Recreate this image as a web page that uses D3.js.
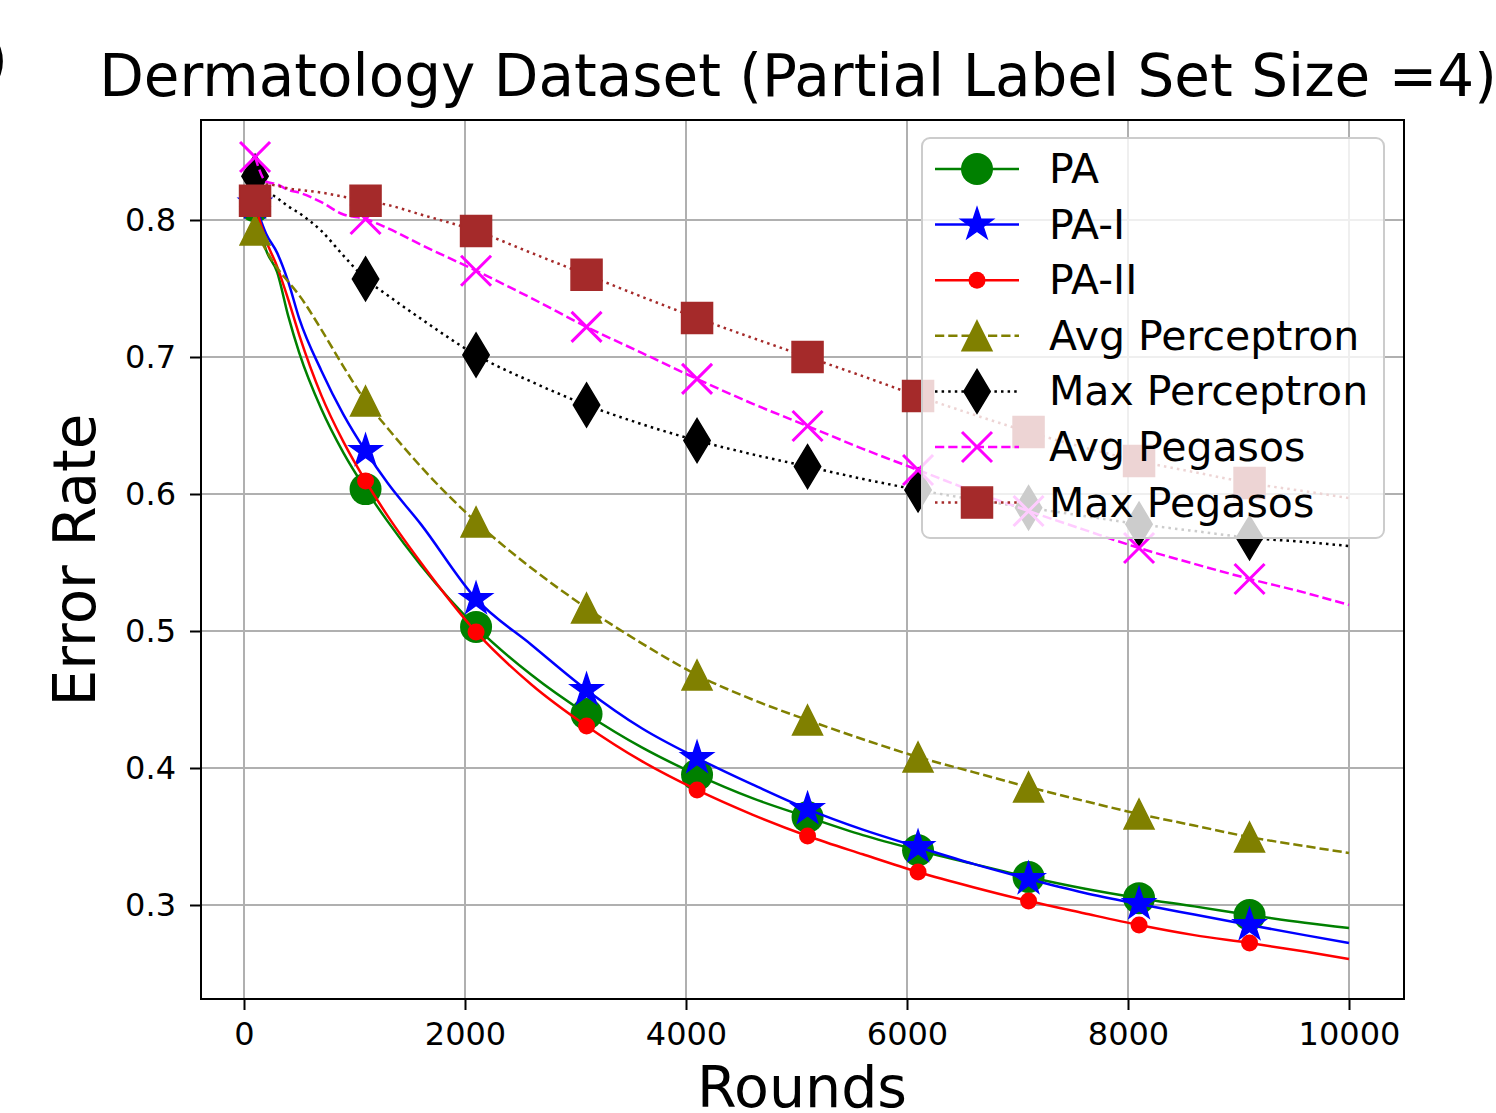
<!DOCTYPE html>
<html><head><meta charset="utf-8">
<script src="https://cdn.jsdelivr.net/npm/d3@7"></script>
<style>body{margin:0;background:#fff}svg{display:block}text{font-family:"DejaVu Sans",sans-serif;fill:#000}</style>
</head><body>
<svg id="chart" width="1496" height="1113"></svg>
<script>
// ---------- data ----------
const rounds = [100,200,300,400,500,700,900,1100,1300,1600,2100,2600,3100,3600,4100,4600,5100,5600,6100,6600,7100,7600,8100,8600,9100,9600,10000];
const seriesNames = ["PA","PA-I","PA-II","Avg Perceptron","Max Perceptron","Avg Pegasos","Max Pegasos"];
const paValues      = [0.810,0.778,0.762,0.730,0.703,0.662,0.630,0.6036,0.580,0.548,0.503,0.468,0.4394,0.415,0.395,0.378,0.3642,0.351,0.340,0.330,0.3204,0.312,0.305,0.299,0.2927,0.287,0.2832];
const paIValues     = [0.812,0.790,0.776,0.755,0.728,0.690,0.658,0.6314,0.608,0.578,0.5234,0.490,0.457,0.429,0.4073,0.388,0.370,0.355,0.3423,0.330,0.319,0.309,0.3007,0.293,0.2854,0.278,0.2723];
const paIIValues    = [0.811,0.785,0.766,0.742,0.716,0.672,0.638,0.6095,0.584,0.550,0.4993,0.461,0.4307,0.405,0.384,0.366,0.3504,0.337,0.3241,0.313,0.3029,0.294,0.2854,0.278,0.2723,0.266,0.2606];
const avgPercValues = [0.7927,0.778,0.765,0.755,0.745,0.720,0.693,0.6679,0.648,0.620,0.5796,0.546,0.5168,0.491,0.4679,0.450,0.435,0.421,0.408,0.397,0.3861,0.376,0.3664,0.358,0.3496,0.343,0.338];
const maxPercValues = [0.832,0.822,0.816,0.810,0.805,0.792,0.774,0.757,0.745,0.728,0.7015,0.682,0.665,0.651,0.639,0.629,0.620,0.611,0.603,0.596,0.590,0.584,0.578,0.573,0.568,0.565,0.562];
const avgPegValues  = [0.846,0.828,0.826,0.822,0.820,0.813,0.804,0.8007,0.794,0.782,0.763,0.743,0.722,0.703,0.684,0.666,0.6496,0.633,0.6175,0.602,0.5876,0.574,0.5606,0.549,0.538,0.528,0.519];
const maxPegValues  = [0.814,0.826,0.825,0.823,0.822,0.820,0.817,0.814,0.811,0.804,0.792,0.776,0.760,0.744,0.7285,0.714,0.700,0.686,0.6715,0.658,0.6453,0.634,0.624,0.616,0.608,0.602,0.597];
const xTicks = [0,2000,4000,6000,8000,10000];
const yTicks = [0.3,0.4,0.5,0.6,0.7,0.8];
const titleText = "Dermatology Dataset (Partial Label Set Size =4)";
const panelTag = ")";
const xLabel = "Rounds";
const yLabel = "Error Rate";

// ---------- styles ----------
const styles = [
  {color:"#008000", dash:null, marker:"circle", r:16},
  {color:"#0000ff", dash:null, marker:"star", r:17},
  {color:"#ff0000", dash:null, marker:"circle", r:8.5},
  {color:"#808000", dash:"9.25,4", marker:"tri", r:15},
  {color:"#000000", dash:"2.5,4.1", marker:"diamond", r:22},
  {color:"#ff00ff", dash:"9.25,4", marker:"x", r:15},
  {color:"#a52a2a", dash:"2.5,4.1", marker:"square", r:15.5}
];
const allValues = [paValues,paIValues,paIIValues,avgPercValues,maxPercValues,avgPegValues,maxPegValues];

const svg = d3.select("#chart");
const frame = {l:201, r:1404, t:120, b:999};
const x = d3.scaleLinear().domain([0,10000]).range([244,1349]);
const y = d3.scaleLinear().domain([0.3,0.8]).range([905,220]);

// grid
const grid = svg.append("g");
xTicks.forEach(t => grid.append("line").attr("x1",x(t)).attr("x2",x(t)).attr("y1",frame.t).attr("y2",frame.b)
  .attr("stroke","#b0b0b0").attr("stroke-width",2));
yTicks.forEach(t => grid.append("line").attr("y1",y(t)).attr("y2",y(t)).attr("x1",frame.l).attr("x2",frame.r)
  .attr("stroke","#b0b0b0").attr("stroke-width",2));

// axes
const xAxis = svg.append("g").attr("transform",`translate(0,${frame.b})`)
  .call(d3.axisBottom(x).tickValues(xTicks).tickFormat(d3.format("d")).tickSize(11).tickPadding(12));
const yAxis = svg.append("g").attr("transform",`translate(${frame.l},0)`)
  .call(d3.axisLeft(y).tickValues(yTicks).tickFormat(d3.format(".1f")).tickSize(11).tickPadding(14));
[xAxis,yAxis].forEach(a => {
  a.select(".domain").remove();
  a.selectAll(".tick line").attr("stroke","#000").attr("stroke-width",2);
  a.selectAll(".tick text").attr("font-size",32).attr("font-family","DejaVu Sans").attr("fill","#000");
});

function markerPath(type, r){
  if(type==="star"){
    const pts=[];
    for(let i=0;i<10;i++){const a=-Math.PI/2+i*Math.PI/5; const rr=i%2?r*0.382:r; pts.push([rr*Math.cos(a), rr*Math.sin(a)]);}
    return "M"+pts.map(p=>p.join(",")).join("L")+"Z";
  }
  if(type==="tri") return `M0,${-r}L${r},${r}L${-r},${r}Z`;
  if(type==="diamond") return `M0,${-r}L${0.6*r},0L0,${r}L${-0.6*r},0Z`;
  if(type==="square") return `M${-r},${-r}L${r},${-r}L${r},${r}L${-r},${r}Z`;
  if(type==="x") return `M${-r},${-r}L${r},${r}M${-r},${r}L${r},${-r}`;
  return null;
}
function drawMarker(g, st, cx, cy){
  if(st.marker==="circle"){
    g.append("circle").attr("cx",cx).attr("cy",cy).attr("r",st.r).attr("fill",st.color);
  } else if(st.marker==="x"){
    g.append("path").attr("d",markerPath("x",st.r)).attr("transform",`translate(${cx},${cy})`)
      .attr("stroke",st.color).attr("stroke-width",3).attr("fill","none");
  } else {
    g.append("path").attr("d",markerPath(st.marker,st.r)).attr("transform",`translate(${cx},${cy})`)
      .attr("fill",st.color).attr("stroke",st.color).attr("stroke-width",1.5).attr("stroke-linejoin","miter");
  }
}

const line = d3.line().x(d=>x(d[0])).y(d=>y(d[1])).curve(d3.curveMonotoneX);
const plot = svg.append("g");
allValues.forEach((vals,i) => {
  const st = styles[i];
  const pts = rounds.map((r,k)=>[r,vals[k]]);
  const g = plot.append("g");
  g.append("path").attr("d",line(pts)).attr("fill","none").attr("stroke",st.color).attr("stroke-width",2.5)
    .attr("stroke-dasharray",st.dash).attr("stroke-linecap","butt");
  pts.filter(p => p[0]%1000===100).forEach(p => drawMarker(g, st, x(p[0]), y(p[1])));
});

// frame
svg.append("rect").attr("x",frame.l).attr("y",frame.t).attr("width",frame.r-frame.l).attr("height",frame.b-frame.t)
  .attr("fill","none").attr("stroke","#000").attr("stroke-width",2);

// legend
const lg = svg.append("g");
lg.append("rect").attr("x",922).attr("y",138).attr("width",462).attr("height",400).attr("rx",8)
  .attr("fill","#fff").attr("fill-opacity",0.8).attr("stroke","#cccccc").attr("stroke-width",2);
seriesNames.forEach((name,i) => {
  const st = styles[i];
  const ry = 169 + i*55.6;
  lg.append("line").attr("x1",935).attr("x2",1019).attr("y1",ry).attr("y2",ry)
    .attr("stroke",st.color).attr("stroke-width",2.5).attr("stroke-dasharray",st.dash);
  drawMarker(lg, st, 977, ry);
  lg.append("text").attr("x",1049).attr("y",ry+14).attr("font-size",41).text(name);
});

// titles
svg.append("text").attr("x",798).attr("y",96).attr("text-anchor","middle").attr("font-size",58).text(titleText);
svg.append("text").attr("x",8).attr("y",80).attr("text-anchor","end").attr("font-size",58).text(panelTag);
svg.append("text").attr("x",802).attr("y",1107).attr("text-anchor","middle").attr("font-size",57).text(xLabel);
svg.append("text").attr("transform","translate(95,560) rotate(-90)").attr("text-anchor","middle").attr("font-size",58).text(yLabel);
</script>
</body></html>
